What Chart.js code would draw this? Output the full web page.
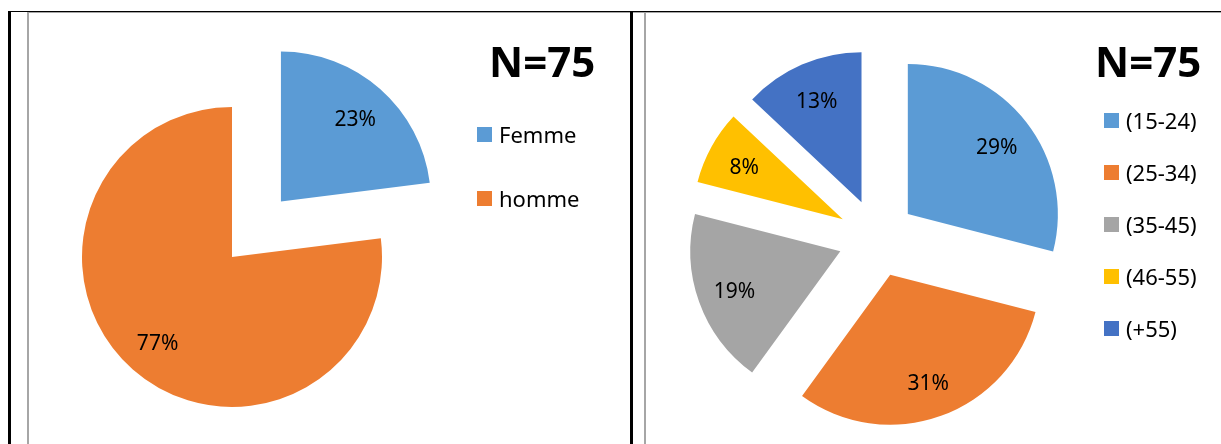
<!DOCTYPE html>
<html>
<head>
<meta charset="utf-8">
<script src="https://cdn.jsdelivr.net/npm/chart.js@4"></script>
<style>
  html, body { margin: 0; padding: 0; background: #fff; }
  body { width: 1221px; height: 444px; position: relative; overflow: hidden;
         font-family: 'Noto Sans', sans-serif; color: #000; }
  .line { position: absolute; }
  .panel-canvas { position: absolute; }
  .ntitle { position: absolute; top: 40px; font-size: 42px; line-height: 42px; font-weight: 700; }
  .legend-row { position: absolute; display: flex; align-items: center; font-size: 22px; line-height: 22px; }
  .legend-row .box { width: 15px; height: 15px; margin-right: 7px; }
</style>
</head>
<body>

<!-- frame -->
<div class="line" style="left:8px;top:11px;width:1213px;height:1px;background:#000"></div>
<div class="line" style="left:27px;top:12px;width:1194px;height:1px;background:#a6a6a6"></div>
<div class="line" style="left:8px;top:11px;width:3px;height:433px;background:#000"></div>
<div class="line" style="left:27px;top:12px;width:2px;height:432px;background:#a6a6a6"></div>
<div class="line" style="left:630px;top:11px;width:3px;height:433px;background:#000"></div>
<div class="line" style="left:644px;top:12px;width:2px;height:432px;background:#a6a6a6"></div>

<div class="panel-canvas" style="left:30px;top:14px;width:600px;height:430px"><canvas id="chart-sexe"></canvas></div>
<div class="panel-canvas" style="left:646px;top:14px;width:575px;height:430px"><canvas id="chart-age"></canvas></div>

<div class="ntitle" style="left:489px">N=75</div>
<div class="ntitle" style="left:1095px">N=75</div>

<script>
// ── Data ──────────────────────────────────────────────────

const N_TOTAL = 75;

const SEXE_LABELS = ['Femme', 'homme'];
const SEXE_PCT    = [23, 77];

const AGE_LABELS  = ['(15-24)', '(25-34)', '(35-45)', '(46-55)', '(+55)'];
const AGE_PCT     = [29, 31, 19, 8, 13];

// ── Style ─────────────────────────────────────────────────

const COLORS = {
  blue:   '#5B9BD5',
  orange: '#ED7D31',
  gray:   '#A5A5A5',
  yellow: '#FFC000',
  navy:   '#4472C4',
};

const SEXE_COLORS = [COLORS.blue, COLORS.orange];
const AGE_COLORS  = [COLORS.blue, COLORS.orange, COLORS.gray, COLORS.yellow, COLORS.navy];

const PIE_RADIUS = 150;
const LABEL_POS  = 0.75;   // fraction of radius from slice apex
const LABEL_DY   = 3;      // nudge: canvas 'middle' sits above digit centre

// ── Exploded slices + percent labels ──────────────────────
// Excel-style explode: each slice is translated along its mid angle,
// keeping its real radius and angles.

const explodePlugin = {
  id: 'explode',
  beforeDatasetDraw(chart, args, opts) {
    const ctx = chart.ctx;
    args.meta.data.forEach((arc, i) => {
      const d   = opts.distances[i] || 0;
      const mid = (arc.startAngle + arc.endAngle) / 2;
      ctx.save();
      ctx.translate(Math.cos(mid) * d, Math.sin(mid) * d);
      arc.draw(ctx);
      ctx.restore();
    });
    return false;
  },
  afterDatasetsDraw(chart, args, opts) {
    const ctx  = chart.ctx;
    const meta = chart.getDatasetMeta(0);
    const values = chart.data.datasets[0].data;
    ctx.save();
    ctx.font = "21px 'Noto Sans', sans-serif";
    ctx.fillStyle = '#000';
    ctx.textAlign = 'center';
    ctx.textBaseline = 'middle';
    meta.data.forEach((arc, i) => {
      const d   = (opts.distances[i] || 0) + arc.outerRadius * LABEL_POS;
      const mid = (arc.startAngle + arc.endAngle) / 2;
      ctx.fillText(values[i] + '%', arc.x + Math.cos(mid) * d, arc.y + Math.sin(mid) * d + LABEL_DY);
    });
    ctx.restore();
  },
};

function renderPie(canvasId, labels, values, colors, distances, padding) {
  return new Chart(document.getElementById(canvasId), {
    type: 'pie',
    data: {
      labels,
      datasets: [{
        data:            values,
        backgroundColor: colors,
        borderWidth:     0,
        clip:            false,
      }],
    },
    options: {
      responsive: true,
      maintainAspectRatio: false,
      animation: false,
      radius: PIE_RADIUS,
      layout: { padding },
      plugins: {
        legend:  { display: false },
        tooltip: { enabled: false },
        explode: { distances },
      },
    },
    plugins: [explodePlugin],
  });
}

function renderLegend(labels, colors, left, top, step) {
  labels.forEach((lab, i) => {
    const row = document.createElement('div');
    row.className = 'legend-row';
    row.style.left = left + 'px';
    row.style.top  = (top + i * step) + 'px';
    const box = document.createElement('span');
    box.className = 'box';
    box.style.background = colors[i];
    const txt = document.createElement('span');
    txt.textContent = lab;
    row.appendChild(box);
    row.appendChild(txt);
    document.body.appendChild(row);
  });
}

// ── Render ────────────────────────────────────────────────

renderPie('chart-sexe', SEXE_LABELS, SEXE_PCT, SEXE_COLORS, [74, 0],
  { left: 0, right: 196, top: 56, bottom: 0 });
renderPie('chart-age', AGE_LABELS, AGE_PCT, AGE_COLORS, [39, 39, 39, 39, 39],
  { left: 0, right: 113, top: 18, bottom: 0 });

renderLegend(SEXE_LABELS, SEXE_COLORS, 477, 123, 64);
renderLegend(AGE_LABELS, AGE_COLORS, 1104, 109, 52);
</script>
</body>
</html>
